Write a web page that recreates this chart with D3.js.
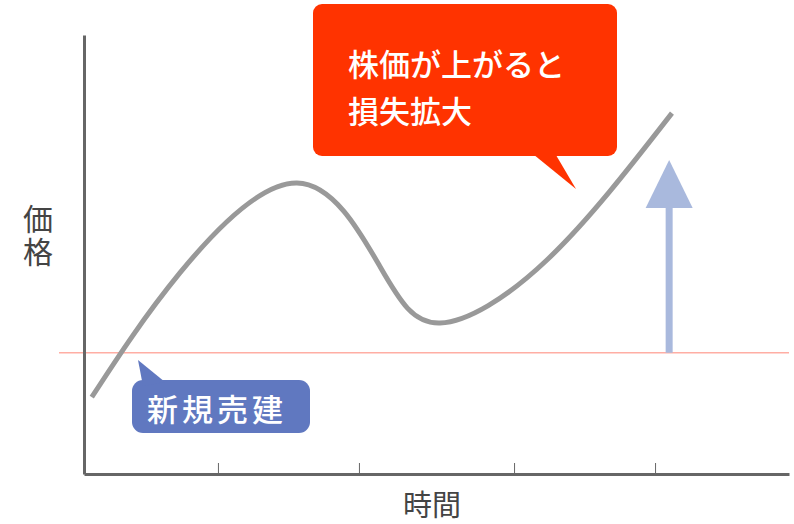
<!DOCTYPE html>
<html>
<head>
<meta charset="utf-8">
<script src="https://cdn.jsdelivr.net/npm/d3@7"></script>
<style>
  body { margin: 0; background: #fff; }
  svg { display: block; font-family: "Noto Sans CJK JP", "Noto Sans", sans-serif; }
  .axis path.domain { stroke: #666; stroke-width: 3; }
  .axis .tick line { stroke: #666; stroke-width: 1; }
  .axis .tick text { display: none; }
</style>
</head>
<body>
<svg class="chart" width="794" height="524"></svg>
<script>
"use strict";

// price path over time
var timeVals = [1.1, 13.6, 30.2, 42.0, 50.5, 65.7, 83.4];
var priceVals = [17.5, 45.8, 66.3, 47.2, 34.4, 48.8, 82.2];
var tickTimes = [19, 39, 61, 81];

var entryPrice = 27.6;          // 新規売建 level
var arrowTime = 83;
var arrowTop = 71.5;            // arrow tip
var arrowHeadBase = 60.6;

var lossLines = ["株価が上がると", "損失拡大"];
var entryLabel = "新規売建";
var xLabel = "時間";
var yLabel = "価格";

var svg = d3.select("svg.chart");

var x = d3.scaleLinear().domain([0, 100]).range([84, 789]);
var y = d3.scaleLinear().domain([0, 100]).range([474, 35]);

var points = timeVals.map(function (t, i) {
    return { time: t, price: priceVals[i] };
});

// entry level line
svg.append("line")
    .attr("x1", x(0) - 25).attr("x2", x(100))
    .attr("y1", y(entryPrice)).attr("y2", y(entryPrice))
    .attr("stroke", "#ffaea4").attr("stroke-width", 1.5);

// axes
svg.append("g").attr("class", "axis axis--x")
    .attr("transform", "translate(0, " + y(0) + ")")
    .call(d3.axisBottom(x).tickValues(tickTimes).tickSize(-11).tickSizeOuter(0));

svg.append("g").attr("class", "axis axis--y")
    .attr("transform", "translate(" + x(0) + ", 0)")
    .call(d3.axisLeft(y).tickValues([]).tickSizeOuter(0));

// upward arrow
svg.append("line")
    .attr("x1", x(arrowTime)).attr("x2", x(arrowTime))
    .attr("y1", y(entryPrice)).attr("y2", y(arrowHeadBase) - 1)
    .attr("stroke", "#a9b9dd").attr("stroke-width", 7);

svg.append("path")
    .attr("d", "M" + x(arrowTime) + "," + y(arrowTop) +
        "L" + (x(arrowTime) + 23.5) + "," + y(arrowHeadBase) +
        "L" + (x(arrowTime) - 23.5) + "," + y(arrowHeadBase) + "Z")
    .attr("fill", "#a9b9dd");

// price curve
var line = d3.line().curve(d3.curveNatural)
    .x(function (d) { return x(d.time); })
    .y(function (d) { return y(d.price); });

svg.append("path").datum(points)
    .attr("d", line)
    .attr("fill", "none")
    .attr("stroke", "#999")
    .attr("stroke-width", 5);

// red callout
var red = svg.append("g");
red.append("rect")
    .attr("x", 313).attr("y", 4).attr("width", 304).attr("height", 152)
    .attr("rx", 9).attr("fill", "#ff3300");
red.append("path")
    .attr("d", "M528,150L576,189L553,150Z")
    .attr("fill", "#ff3300");
red.selectAll("text").data(lossLines).enter().append("text")
    .attr("x", 348)
    .attr("y", function (d, i) { return 62 + i * 47; })
    .attr("dominant-baseline", "central")
    .attr("fill", "#fff")
    .attr("font-size", 31)
    .attr("font-weight", 500)
    .text(function (d) { return d; });

// blue callout
var blue = svg.append("g");
blue.append("rect")
    .attr("x", 132).attr("y", 380).attr("width", 178).attr("height", 53)
    .attr("rx", 11).attr("fill", "#6078c0");
blue.append("path")
    .attr("d", "M138,360L143,386L165,382Z")
    .attr("fill", "#6078c0");
blue.append("text")
    .attr("x", 147).attr("y", 407)
    .attr("dominant-baseline", "central")
    .attr("fill", "#fff")
    .attr("font-size", 31)
    .attr("font-weight", 500)
    .attr("letter-spacing", 4)
    .text(entryLabel);

// axis labels
svg.append("text")
    .attr("x", 432).attr("y", 503)
    .attr("text-anchor", "middle")
    .attr("dominant-baseline", "central")
    .attr("fill", "#444")
    .attr("font-size", 29)
    .text(xLabel);

svg.append("text")
    .attr("x", 38).attr("y", 237)
    .attr("writing-mode", "vertical-rl")
    .attr("text-anchor", "middle")
    .attr("letter-spacing", 3)
    .attr("fill", "#444")
    .attr("font-size", 30)
    .text(yLabel);
</script>
</body>
</html>
